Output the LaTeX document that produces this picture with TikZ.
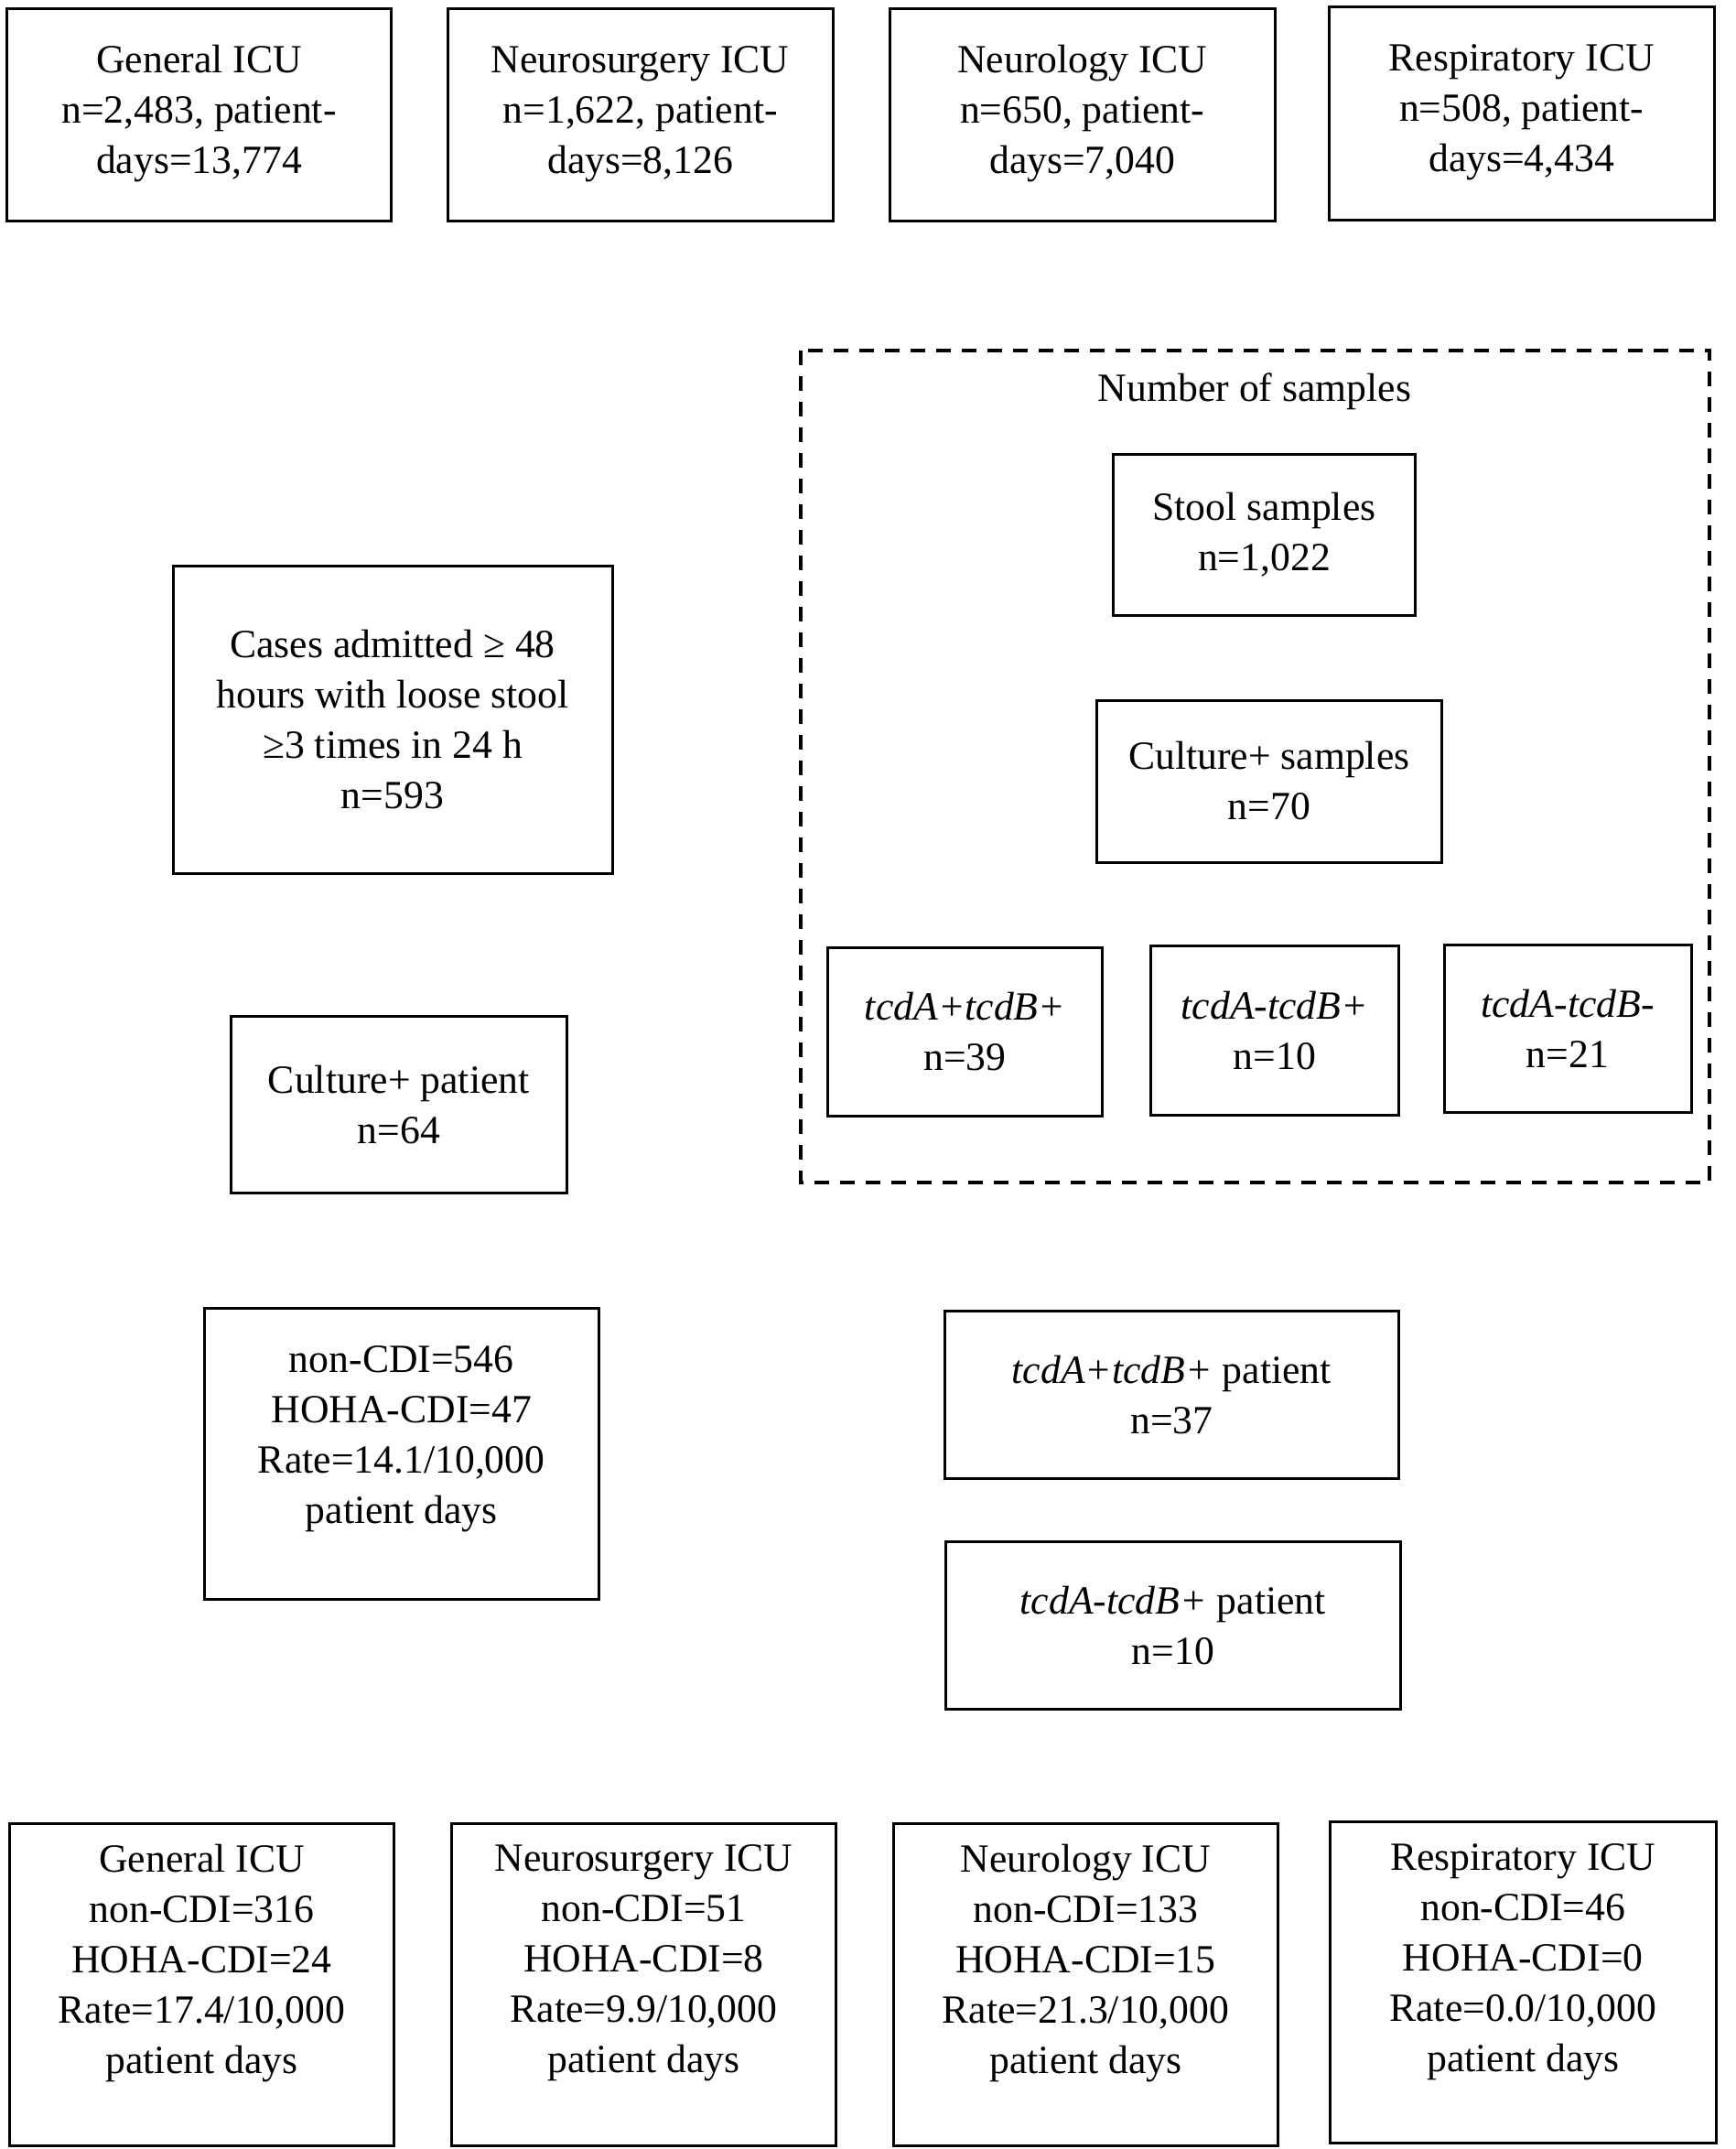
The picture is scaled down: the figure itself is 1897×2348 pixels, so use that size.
\documentclass[tikz,border=0pt]{standalone}
\usepackage{fontspec}
\setmainfont{Liberation Serif}
\begin{document}
\begin{tikzpicture}[x=1pt,y=-1pt,
  box/.style={draw=black,line width=3pt,rectangle,inner sep=0pt,fill=none},
  txt/.style={align=center,inner sep=0pt,font=\fontsize{43.7}{55}\selectfont},
  dashbox/.style={draw=black,line width=4pt,dash pattern=on 16pt off 12pt}]
\useasboundingbox[fill=white] (0,0) rectangle (1897,2348);
% top row
\node[box,minimum width=420pt,minimum height=232.5pt] (g1) at (217.5,125.25) {};
\node[txt] (g1t) at (217.5,124.5) {General ICU\\n=2,483, patient-\\days=13,774};
\node[box,minimum width=421.5pt,minimum height=232.5pt] (n1) at (699.75,125.25) {};
\node[txt] (n1t) at (699.75,124.5) {Neurosurgery ICU\\n=1,622, patient-\\days=8,126};
\node[box,minimum width=421.5pt,minimum height=232.5pt] (l1) at (1182.75,125.25) {};
\node[txt] (l1t) at (1182.75,124.5) {Neurology ICU\\n=650, patient-\\days=7,040};
\node[box,minimum width=421.5pt,minimum height=232.5pt] (r1) at (1662.75,123.75) {};
\node[txt] (r1t) at (1662.75,123) {Respiratory ICU\\n=508, patient-\\days=4,434};
% dashed group
\coordinate (dtl) at (874.5,382.5);
\coordinate (dbr) at (1867.5,1291.5);
\draw[dashbox] (dtl) rectangle (dbr);
\node[txt] (nos) at (1371,427.5) {Number of samples};
\node[box,minimum width=330pt,minimum height=175.5pt] (stool) at (1381.5,584.25) {};
\node[txt] (stoolt) at (1381.5,584.25) {Stool samples\\n=1,022};
\node[box,minimum width=376.5pt,minimum height=177pt] (cs) at (1386.75,853.5) {};
\node[txt] (cst) at (1386.75,853.5) {Culture+ samples\\n=70};
\node[box,minimum width=300pt,minimum height=184.5pt] (ab) at (1054.5,1127.25) {};
\node[txt] (abt) at (1054.5,1127.25) {\textit{tcdA+tcdB+}\\n=39};
\node[box,minimum width=271.5pt,minimum height=184.5pt] (mb) at (1392.75,1125.75) {};
\node[txt] (mbt) at (1392.75,1125.75) {\textit{tcdA-tcdB+}\\n=10};
\node[box,minimum width=270pt,minimum height=183pt] (mm) at (1713,1123.5) {};
\node[txt] (mmt) at (1713,1123.5) {\textit{tcdA-tcdB-}\\n=21};
% left column
\node[box,minimum width=480pt,minimum height=336pt] (cases) at (429,786) {};
\node[txt] (casest) at (429,786) {Cases admitted ≥ 48\\hours with loose stool\\≥3 times in 24 h\\n=593};
\node[box,minimum width=367.5pt,minimum height=193.5pt] (cp) at (435.75,1206.75) {};
\node[txt] (cpt) at (435.75,1206.75) {Culture+ patient\\n=64};
\node[box,minimum width=430.5pt,minimum height=318pt] (nc) at (438.75,1588.5) {};
\node[txt] (nct) at (438.75,1572) {non-CDI=546\\HOHA-CDI=47\\Rate=14.1/10,000\\patient days};
% right column patients
\node[box,minimum width=496.5pt,minimum height=183pt] (abp) at (1280.25,1524) {};
\node[txt] (abpt) at (1280.25,1524) {\textit{tcdA+tcdB+} patient\\n=37};
\node[box,minimum width=496.5pt,minimum height=183pt] (mbp) at (1281.75,1776) {};
\node[txt] (mbpt) at (1281.75,1776) {\textit{tcdA-tcdB+} patient\\n=10};
% bottom row
\node[box,minimum width=420pt,minimum height=352.5pt] (g2) at (220.5,2168.25) {};
\node[txt] (g2t) at (220.5,2145) {General ICU\\non-CDI=316\\HOHA-CDI=24\\Rate=17.4/10,000\\patient days};
\node[box,minimum width=420pt,minimum height=352.5pt] (n2) at (703.5,2168.25) {};
\node[txt] (n2t) at (703.5,2145) {Neurosurgery ICU\\non-CDI=51\\HOHA-CDI=8\\Rate=9.9/10,000\\patient days};
\node[box,minimum width=420pt,minimum height=352.5pt] (l2) at (1186.5,2168.25) {};
\node[txt] (l2t) at (1186.5,2145) {Neurology ICU\\non-CDI=133\\HOHA-CDI=15\\Rate=21.3/10,000\\patient days};
\node[box,minimum width=421.5pt,minimum height=351pt] (r2) at (1664.25,2166) {};
\node[txt] (r2t) at (1664.25,2143.5) {Respiratory ICU\\non-CDI=46\\HOHA-CDI=0\\Rate=0.0/10,000\\patient days};
\end{tikzpicture}
\end{document}
